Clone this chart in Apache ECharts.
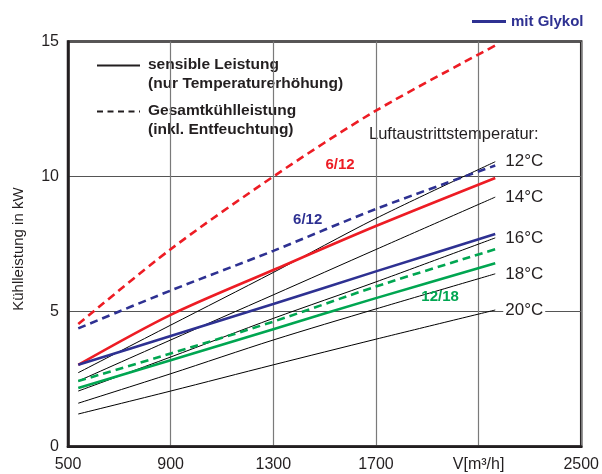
<!DOCTYPE html>
<html>
<head>
<meta charset="utf-8">
<script src="https://cdn.jsdelivr.net/npm/echarts@6/dist/echarts.min.js"></script>
<style>
  html, body { margin: 0; padding: 0; background: #fff; }
  #chart { width: 602px; height: 474px; }
</style>
</head>
<body>
<div id="chart"></div>
<script>
// Luftmenge V [m3/h] – gemeinsame Stützstellen aller Kurven
const volumes = [540, 900, 1300, 1700, 2165]

// Kühlleistung in kW
const redSensible = [3.03, 4.88, 6.54, 8.17, 9.95]
const redTotal = [4.54, 7.31, 10.0, 12.44, 14.85]
const blueSensible = [3.03, 4.1, 5.28, 6.49, 7.87]
const blueTotal = [4.38, 5.78, 7.25, 8.8, 10.41]
const greenSensible = [2.17, 3.2, 4.35, 5.5, 6.79]
const greenTotal = [2.43, 3.45, 4.63, 5.93, 7.31]

// Luftaustrittstemperaturen (schwarze Linien)
const tempLabels = ['12°C', '14°C', '16°C', '18°C', '20°C']
const tempLines = [
  [2.74, 4.5, 6.45, 8.45, 10.55],
  [2.43, 3.95, 5.62, 7.3, 9.24],
  [2.06, 3.32, 4.75, 6.1, 7.73],
  [1.61, 2.7, 3.95, 5.1, 6.4],
  [1.21, 2.06, 3.03, 3.98, 5.06]
]

const xTicks = [500, 900, 1300, 1700, 2100, 2500]
const yTicks = [0, 5, 10, 15]

const RED = '#ed1c24'
const BLUE = '#2e3192'
const GREEN = '#00a651'
const INK = '#231f20'
const FONT = '"Liberation Sans", Arial, sans-serif'

const pairs = (ys) => volumes.map((v, i) => [v, ys[i]])

// Kurvenbeschriftung als markPoint im Datenraum
const curveTag = (text, color, coord) => ({
  symbolSize: 0,
  silent: true,
  label: { show: true, position: 'inside', formatter: text, color, fontWeight: 'bold', fontSize: 15, fontFamily: FONT },
  data: [{ coord }]
})

const colored = (name, data, color, dashed, tag) => ({
  name,
  type: 'line',
  data: pairs(data),
  symbol: 'none',
  smooth: 0.3,
  z: 3,
  lineStyle: { color, width: 2.6, type: dashed ? [8, 5] : 'solid' },
  itemStyle: { color },
  markPoint: tag
})

const series = [
  colored('sensibel 6/12', redSensible, RED, false),
  colored('gesamt 6/12', redTotal, RED, true, curveTag('6/12', RED, [1560, 10.43])),
  colored('mit Glykol', blueSensible, BLUE, false),
  colored('mit Glykol', blueTotal, BLUE, true, curveTag('6/12', BLUE, [1434, 8.4])),
  colored('sensibel 12/18', greenSensible, GREEN, false, curveTag('12/18', GREEN, [1950, 5.54])),
  colored('gesamt 12/18', greenTotal, GREEN, true)
]

tempLines.forEach((ys, i) => {
  series.push({
    name: tempLabels[i],
    type: 'line',
    data: pairs(ys),
    symbol: 'none',
    smooth: 0.3,
    z: 2,
    lineStyle: { color: '#000', width: 1 },
    endLabel: {
      show: true,
      formatter: tempLabels[i],
      distance: 8,
      fontSize: 17,
      fontFamily: FONT,
      color: INK,
      backgroundColor: '#fff',
      padding: [0, 2]
    }
  })
})

const chart = echarts.init(document.getElementById('chart'))

chart.setOption({
  animation: false,
  textStyle: { fontFamily: FONT },
  grid: {
    left: 68, right: 20, top: 41.5, bottom: 27.3,
    show: true, borderColor: INK, borderWidth: 2.5, backgroundColor: 'transparent'
  },
  legend: {
    data: ['mit Glykol'],
    icon: 'rect',
    left: 467, top: 9,
    itemWidth: 34, itemHeight: 3, itemGap: 8,
    textStyle: { color: BLUE, fontWeight: 'bold', fontSize: 15, fontFamily: FONT }
  },
  xAxis: {
    type: 'value',
    min: xTicks[0],
    max: xTicks[xTicks.length - 1],
    interval: 400,
    axisLine: { show: true, lineStyle: { color: INK, width: 2.5 } },
    axisTick: { show: false },
    axisLabel: {
      fontSize: 16, color: INK, margin: 10,
      formatter: (v) => (v === 2100 ? 'V[m³/h]' : String(v))
    },
    splitLine: { show: true, lineStyle: { color: '#7a7a7a', width: 1.2 } }
  },
  yAxis: {
    type: 'value',
    min: yTicks[0],
    max: yTicks[yTicks.length - 1],
    interval: 5,
    name: 'Kühlleistung in kW',
    nameLocation: 'middle',
    nameGap: 42,
    nameTextStyle: { fontSize: 15, color: INK, fontFamily: FONT, padding: [0, 10, 0, 0] },
    axisLine: { show: true, lineStyle: { color: INK, width: 2.5 } },
    axisTick: { show: false },
    axisLabel: { fontSize: 16, color: INK, margin: 9 },
    splitLine: { show: true, lineStyle: { color: '#555', width: 1.2 } }
  },
  // Erklärungskasten oben links + Überschrift der Temperaturen
  graphic: [
    { type: 'line', shape: { x1: 97, y1: 65.5, x2: 140, y2: 65.5 }, style: { stroke: INK, lineWidth: 2.2 } },
    { type: 'line', shape: { x1: 97, y1: 111.5, x2: 140, y2: 111.5 }, style: { stroke: INK, lineWidth: 2.2, lineDash: [6, 4.5] } },
    { type: 'text', left: 148, top: 56.5, style: { text: 'sensible Leistung', font: 'bold 15.5px ' + FONT, fill: INK } },
    { type: 'text', left: 148, top: 75.5, style: { text: '(nur Temperaturerhöhung)', font: 'bold 15.5px ' + FONT, fill: INK } },
    { type: 'text', left: 148, top: 103, style: { text: 'Gesamtkühlleistung', font: 'bold 15.5px ' + FONT, fill: INK } },
    { type: 'text', left: 148, top: 121.5, style: { text: '(inkl. Entfeuchtung)', font: 'bold 15.5px ' + FONT, fill: INK } },
    { type: 'text', left: 369, top: 126, style: { text: 'Luftaustrittstemperatur:', font: '16.5px ' + FONT, fill: INK, backgroundColor: '#fff' } }
  ],
  series
})
</script>
</body>
</html>
